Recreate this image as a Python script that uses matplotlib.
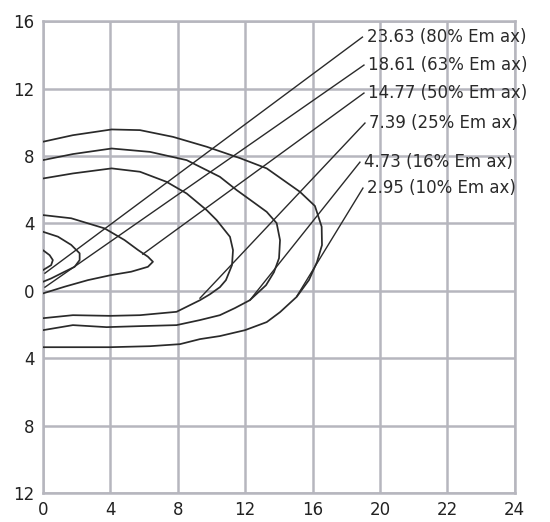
import numpy as np
import matplotlib
matplotlib.use("Agg")
import matplotlib.pyplot as plt

# tick labels (grid is evenly spaced, labels are not)
x_labels = ["0", "4", "8", "12", "16", "20", "22", "24"]
y_labels = ["16", "12", "8", "4", "0", "4", "8", "12"]

# isolux contours (x in grid units, y in metres)
c10_x = [0, 1.78, 4.08, 5.76, 7.72, 9.73, 11.69, 13.28, 15.25, 16.14, 16.54, 16.56, 16.26, 15.79,
         15.06, 14.07, 13.28, 11.99, 10.5, 9.32, 8.13, 6.35, 3.98, 1.9, 0]
c10_y = [8.84, 9.23, 9.57, 9.53, 9.13, 8.54, 7.87, 7.26, 5.87, 5.03, 3.80, 2.71, 1.70, 0.64,
         -0.36, -1.27, -1.86, -2.34, -2.69, -2.87, -3.17, -3.29, -3.35, -3.35, -3.35]

c16_x = [0, 1.78, 4.08, 6.35, 8.53, 10.5, 11.5, 12.58, 13.28, 13.87, 14.07, 14.01, 13.71, 13.24,
         12.28, 11.39, 10.5, 9.32, 7.93, 5.76, 3.78, 1.78, 0]
c16_y = [7.75, 8.11, 8.44, 8.24, 7.75, 6.76, 5.97, 5.19, 4.68, 4.01, 3.00, 1.93, 1.10, 0.33,
         -0.56, -1.03, -1.45, -1.74, -2.04, -2.10, -2.16, -2.04, -2.34]

c25_x = [0, 1.78, 4.08, 5.76, 7.34, 8.53, 9.72, 10.31, 11.1, 11.28, 11.22, 10.86, 10.5, 9.91,
         9.32, 7.93, 5.76, 3.98, 1.78, 0]
c25_y = [6.66, 6.96, 7.26, 7.06, 6.46, 5.77, 4.78, 4.19, 3.20, 2.41, 1.52, 0.63, 0.21, -0.21,
         -0.56, -1.25, -1.45, -1.49, -1.45, -1.63]

c50_x = [0, 1.68, 3.66, 4.84, 5.64, 6.23, 6.53, 6.23, 5.24, 4.05, 2.67, 1.29, 0]
c50_y = [4.49, 4.30, 3.70, 3.01, 2.42, 2.02, 1.72, 1.42, 1.13, 0.93, 0.63, 0.24, -0.16]

c63_x = [0, 0.89, 1.68, 2.18, 2.18, 1.88, 1.29, 0.49, 0]
c63_y = [3.50, 3.21, 2.72, 2.22, 1.82, 1.42, 1.13, 0.73, 0.53]

c80_x = [0, 0.40, 0.59, 0.49, 0]
c80_y = [2.41, 2.11, 1.82, 1.52, 1.22]

# leader lines: start on contour, end at label
lead_x0 = [0.12, 0.12, 5.93, 9.32, 12.28, 15.07]
lead_y0 = [1.04, 0.21, 2.17, -0.44, -0.56, -0.32]
lead_x1 = [18.96, 19.05, 19.05, 19.11, 18.81, 18.99]
lead_y1 = [15.05, 13.39, 11.73, 9.95, 7.63, 6.09]
lead_text = ["23.63 (80% Em ax)", "18.61 (63% Em ax)", "14.77 (50% Em ax)",
             "7.39 (25% Em ax)", "4.73 (16% Em ax)", "2.95 (10% Em ax)"]

fig = plt.figure(figsize=(5.5, 5.22), dpi=100)
ax = fig.add_axes([0.078, 0.0556, 0.858, 0.904])

line_col = "#2a2a2a"
for cx, cy in [(c10_x, c10_y), (c16_x, c16_y), (c25_x, c25_y),
               (c50_x, c50_y), (c63_x, c63_y), (c80_x, c80_y)]:
    ax.plot(cx, cy, color=line_col, lw=1.25, solid_joinstyle="round",
            solid_capstyle="round", zorder=3)

for i in range(len(lead_text)):
    ax.plot([lead_x0[i], lead_x1[i]], [lead_y0[i], lead_y1[i]], color=line_col, lw=1.0, zorder=3)
    ax.annotate(lead_text[i], (lead_x1[i], lead_y1[i]), xytext=(3, 0),
                textcoords="offset points", ha="left", va="center",
                fontsize=12, color="#2a2a2a", annotation_clip=False, zorder=4)

xt = np.arange(0, 29, 4)
yt = np.arange(16, -13, -4)
ax.set_xticks(xt)
ax.set_xticklabels(x_labels)
ax.set_yticks(yt)
ax.set_yticklabels(y_labels)
ax.set_xlim(0, 28)
ax.set_ylim(-12, 16)
ax.grid(True, color="#b6b6be", lw=1.8, zorder=1)
ax.tick_params(length=0, labelsize=12, colors="#222222", pad=6)
for s in ax.spines.values():
    s.set_color("#b6b6be")
    s.set_linewidth(1.8)

fig.savefig("out.png", dpi=100)
